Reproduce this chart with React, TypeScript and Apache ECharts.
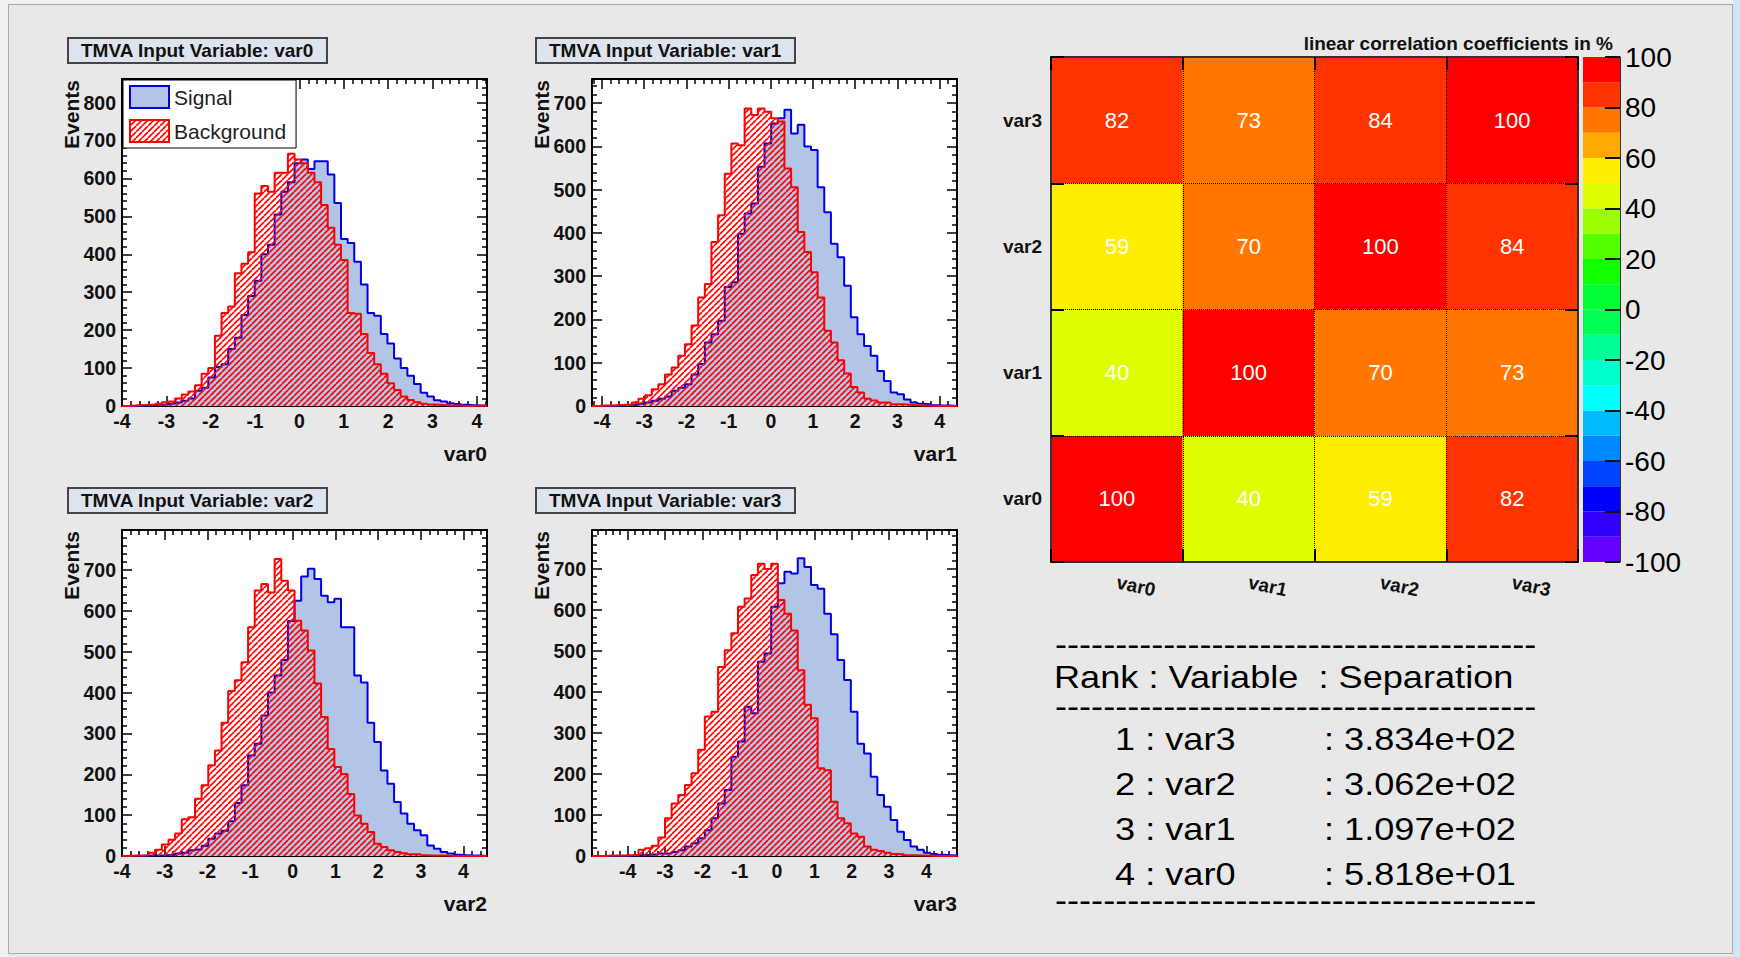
import React, { useEffect, useRef } from 'react';
import * as echarts from 'echarts';

// ---------------- data ----------------
const VARIABLES = ['var0', 'var1', 'var2', 'var3'];
const X_MIN = [-4.0, -4.237, -4.0, -4.955];
const X_MAX = [4.23, 4.412, 4.55, 4.82];
const Y_MAX = [862, 756, 798, 795];
const X_TICK_LABELS = [-4, -3, -2, -1, 0, 1, 2, 3, 4];
const Y_TICK_LABELS_VAR0 = [0, 100, 200, 300, 400, 500, 600, 700, 800];
const Y_TICK_LABELS_OTHER = [0, 100, 200, 300, 400, 500, 600, 700];

const SIGNAL_VAR0 = [0, 0, 1, 1, 2, 3, 4, 6, 9, 14, 20, 40, 48, 75, 103, 110, 150, 180, 240, 290, 330, 400, 425, 505, 565, 590, 640, 650, 625, 645, 645, 610, 535, 440, 430, 380, 320, 245, 238, 190, 165, 125, 100, 80, 58, 35, 25, 15, 12, 7, 5, 3, 2, 1, 1];
const BACKGROUND_VAR0 = [0, 1, 2, 3, 4, 6, 10, 12, 20, 30, 38, 55, 85, 100, 185, 245, 262, 350, 375, 405, 560, 580, 565, 615, 615, 665, 650, 640, 615, 590, 530, 470, 425, 385, 245, 243, 190, 140, 110, 85, 60, 42, 25, 16, 10, 6, 4, 3, 2, 1, 1, 0, 0, 1, 0];
const SIGNAL_VAR1 = [0, 0, 0, 1, 1, 2, 3, 5, 8, 12, 17, 22, 35, 42, 50, 73, 97, 147, 166, 197, 275, 286, 398, 445, 468, 553, 607, 653, 665, 685, 630, 650, 600, 592, 506, 448, 375, 344, 278, 205, 166, 139, 116, 81, 58, 31, 27, 15, 8, 5, 4, 2, 1, 1, 0];
const BACKGROUND_VAR1 = [0, 1, 1, 2, 3, 3, 8, 17, 25, 39, 50, 73, 89, 116, 143, 186, 251, 282, 379, 441, 537, 607, 603, 688, 673, 688, 680, 665, 658, 549, 506, 402, 356, 309, 251, 174, 147, 106, 75, 44, 31, 17, 13, 8, 8, 4, 4, 3, 2, 1, 1, 0, 0, 0, 0];
const SIGNAL_VAR2 = [0, 0, 0, 1, 1, 1, 2, 3, 6, 8, 14, 16, 25, 42, 55, 62, 85, 130, 173, 246, 275, 344, 400, 442, 480, 575, 625, 684, 703, 678, 637, 621, 630, 560, 560, 442, 425, 326, 279, 209, 177, 132, 104, 79, 63, 51, 26, 18, 10, 6, 3, 2, 1, 1, 0];
const BACKGROUND_VAR2 = [0, 1, 1, 2, 8, 15, 28, 40, 55, 90, 95, 140, 173, 222, 258, 326, 404, 430, 474, 560, 650, 666, 645, 727, 674, 650, 576, 552, 503, 422, 340, 262, 218, 201, 152, 99, 79, 59, 30, 22, 14, 10, 7, 4, 4, 2, 1, 1, 1, 0, 0, 0, 0, 0, 0];
const SIGNAL_VAR3 = [0, 0, 0, 0, 0, 1, 1, 2, 3, 4, 6, 6, 10, 14, 23, 31, 43, 63, 92, 128, 161, 242, 279, 364, 348, 474, 494, 608, 665, 693, 689, 726, 705, 661, 652, 591, 541, 478, 429, 352, 274, 250, 193, 149, 120, 88, 59, 39, 23, 15, 8, 5, 3, 2, 1];
const BACKGROUND_VAR3 = [0, 0, 1, 1, 1, 2, 3, 15, 19, 25, 45, 92, 128, 149, 173, 202, 259, 340, 352, 461, 502, 543, 608, 628, 685, 713, 700, 713, 624, 591, 550, 453, 369, 336, 214, 209, 132, 92, 80, 55, 47, 23, 15, 12, 8, 5, 4, 2, 2, 1, 1, 0, 0, 0, 0];

const SIGNAL = [SIGNAL_VAR0, SIGNAL_VAR1, SIGNAL_VAR2, SIGNAL_VAR3];
const BACKGROUND = [BACKGROUND_VAR0, BACKGROUND_VAR1, BACKGROUND_VAR2, BACKGROUND_VAR3];

// correlation matrix rows (row = y variable, columns = x variables var0..var3)
const CORR_VAR0 = [100, 40, 59, 82];
const CORR_VAR1 = [40, 100, 70, 73];
const CORR_VAR2 = [59, 70, 100, 84];
const CORR_VAR3 = [82, 73, 84, 100];
const CORR_ROWS = [CORR_VAR0, CORR_VAR1, CORR_VAR2, CORR_VAR3];

const PALETTE_LOWER = [-100, -90, -80, -70, -60, -50, -40, -30, -20, -10, 0, 10, 20, 30, 40, 50, 60, 70, 80, 90];
const PALETTE_COLORS = [
  '#6600ff', '#3300ff', '#0000ff', '#0044ff', '#0088ff', '#00bbff', '#00ffff', '#00ffcc', '#00ff99', '#00ff55',
  '#00ff33', '#11ff00', '#55ff00', '#99ff00', '#ddff00', '#ffee00', '#ffaa00', '#ff7700', '#ff3300', '#ff0000',
];
const COLORBAR_TICKS = [-100, -80, -60, -40, -20, 0, 20, 40, 60, 80, 100];

const RANKS = [1, 2, 3, 4];
const RANK_VARIABLES = ['var3', 'var2', 'var1', 'var0'];
const SEPARATIONS = ['3.834e+02', '3.062e+02', '1.097e+02', '5.818e+01'];

// ---------------- layout / style ----------------
const FONT = '"Liberation Sans", Arial, Helvetica, sans-serif';
const HIST_GRIDS = [
  { left: 122, top: 79, width: 365, height: 327 },
  { left: 592, top: 79, width: 365, height: 327 },
  { left: 122, top: 530, width: 365, height: 326 },
  { left: 592, top: 530, width: 365, height: 326 },
];
const HIST_TITLES = [
  { left: 68, top: 38 },
  { left: 536, top: 38 },
  { left: 68, top: 488 },
  { left: 536, top: 488 },
];
const SIGNAL_FILL = '#b3c5e6';
const SIGNAL_LINE = '#0000e6';
const BKG_LINE = '#ff0000';
const TABLE_SCALE = 1.13;

function histPoints(values: number[], min: number, max: number): number[][] {
  const w = (max - min) / values.length;
  const pts = values.map((v, i) => [min + i * w, v]);
  pts.push([max, values[values.length - 1]]);
  return pts;
}

function minorValues(min: number, max: number, step: number, majors: number[]): number[] {
  const out: number[] = [];
  const start = Math.ceil(min / step - 1e-9);
  const end = Math.floor(max / step + 1e-9);
  for (let k = start; k <= end; k++) {
    const v = +(k * step).toFixed(6);
    if (!majors.some((m) => Math.abs(m - v) < 1e-9)) out.push(v);
  }
  return out;
}

function makeHatch(): HTMLCanvasElement {
  const c = document.createElement('canvas');
  c.width = 6;
  c.height = 6;
  const ctx = c.getContext('2d')!;
  ctx.strokeStyle = '#ff0000';
  ctx.lineWidth = 1.6;
  for (const k of [-1, 0, 1]) {
    ctx.beginPath();
    ctx.moveTo(k * 6, 6);
    ctx.lineTo(k * 6 + 6, 0);
    ctx.stroke();
  }
  return c;
}

function buildOption() {
  const hatch = { image: makeHatch(), repeat: 'repeat' };

  const grids: any[] = HIST_GRIDS.map((g) => ({
    ...g,
    show: true,
    backgroundColor: '#ffffff',
    borderWidth: 0,
    containLabel: false,
    outerBoundsMode: 'none',
  }));
  grids.push({ left: 1051, top: 57, width: 527, height: 505, show: false, containLabel: false, outerBoundsMode: 'none' });
  grids.push({ left: 1583, top: 57, width: 37, height: 505, show: false, containLabel: false, outerBoundsMode: 'none' });

  const xAxes: any[] = [];
  const yAxes: any[] = [];
  const series: any[] = [];

  const frameLine = (show: boolean) => ({ show, onZero: false, lineStyle: { color: '#000', width: 2 } });
  const ticks = (values: number[], length: number) => ({
    show: true,
    inside: true,
    length,
    customValues: values,
    lineStyle: { color: '#000', width: 1.5 },
  });
  const noLabel = { show: false };
  const tickLabel = (values: number[], margin: number) => ({
    show: true,
    customValues: values,
    margin,
    fontSize: 19.5,
    fontWeight: 'bold',
    color: '#111',
    fontFamily: FONT,
  });

  for (let gi = 0; gi < 4; gi++) {
    const xMin = X_MIN[gi];
    const xMax = X_MAX[gi];
    const yMax = Y_MAX[gi];
    const yTicks = gi === 0 ? Y_TICK_LABELS_VAR0 : Y_TICK_LABELS_OTHER;
    const xMinor = minorValues(xMin, xMax, 0.2, X_TICK_LABELS);
    const yMinor = minorValues(0, yMax, 20, yTicks);
    const xb = { type: 'value', gridIndex: gi, min: xMin, max: xMax, splitLine: { show: false }, nameMoveOverlap: false };
    const yb = { type: 'value', gridIndex: gi, min: 0, max: yMax, splitLine: { show: false }, nameMoveOverlap: false };

    xAxes.push({
      ...xb,
      position: 'bottom',
      axisLine: frameLine(true),
      axisTick: ticks(X_TICK_LABELS, 10),
      axisLabel: tickLabel(X_TICK_LABELS, 5),
      name: VARIABLES[gi],
      nameLocation: 'end',
      nameGap: 0,
      nameTextStyle: {
        fontSize: 21,
        fontWeight: 'bold',
        color: '#111',
        fontFamily: FONT,
        align: 'right',
        verticalAlign: 'top',
        padding: [37, 0, 0, 0],
      },
    });
    xAxes.push({ ...xb, position: 'bottom', axisLine: frameLine(false), axisTick: ticks(xMinor, 5), axisLabel: noLabel });
    xAxes.push({ ...xb, position: 'top', axisLine: frameLine(true), axisTick: ticks(X_TICK_LABELS, 10), axisLabel: noLabel });
    xAxes.push({ ...xb, position: 'top', axisLine: frameLine(false), axisTick: ticks(xMinor, 5), axisLabel: noLabel });

    yAxes.push({
      ...yb,
      position: 'left',
      axisLine: frameLine(true),
      axisTick: ticks(yTicks, 10),
      axisLabel: tickLabel(yTicks, 6),
      name: 'Events',
      nameLocation: 'end',
      nameGap: -1,
      nameRotate: 90,
      nameTextStyle: {
        fontSize: 21,
        fontWeight: 'bold',
        color: '#111',
        fontFamily: FONT,
        align: 'right',
        verticalAlign: 'bottom',
        padding: [0, 0, 40, 0],
      },
    });
    yAxes.push({ ...yb, position: 'left', axisLine: frameLine(false), axisTick: ticks(yMinor, 5), axisLabel: noLabel });
    yAxes.push({ ...yb, position: 'right', axisLine: frameLine(true), axisTick: ticks(yTicks, 10), axisLabel: noLabel });
    yAxes.push({ ...yb, position: 'right', axisLine: frameLine(false), axisTick: ticks(yMinor, 5), axisLabel: noLabel });

    series.push({
      type: 'line',
      name: 'Signal',
      xAxisIndex: gi * 4,
      yAxisIndex: gi * 4,
      data: histPoints(SIGNAL[gi], xMin, xMax),
      step: 'end',
      symbol: 'none',
      silent: true,
      z: 2,
      itemStyle: { color: SIGNAL_FILL },
      lineStyle: { color: SIGNAL_LINE, width: 2 },
      areaStyle: { color: SIGNAL_FILL, opacity: 1 },
      emphasis: { disabled: true },
    });
    series.push({
      type: 'line',
      name: 'Background',
      xAxisIndex: gi * 4,
      yAxisIndex: gi * 4,
      data: histPoints(BACKGROUND[gi], xMin, xMax),
      step: 'end',
      symbol: 'none',
      silent: true,
      z: 3,
      itemStyle: { color: BKG_LINE },
      lineStyle: { color: BKG_LINE, width: 2 },
      areaStyle: { color: hatch, opacity: 1 },
      emphasis: { disabled: true },
    });
  }

  // ---- correlation heatmap axes (index 16, 17) ----
  const catTick = { show: true, inside: true, length: 13, lineStyle: { color: '#000', width: 2 } };
  const catLine = { show: true, onZero: false, lineStyle: { color: '#333', width: 2 } };
  const dotted = { show: true, lineStyle: { type: 'dotted', color: '#000', width: 1 } };
  xAxes.push({
    type: 'category',
    gridIndex: 4,
    data: VARIABLES,
    position: 'bottom',
    z: 5,
    axisLine: catLine,
    axisTick: catTick,
    splitLine: dotted,
    axisLabel: { rotate: -12, margin: 20, interval: 0, fontSize: 19, fontWeight: 'bold', color: '#111', fontFamily: FONT },
  });
  xAxes.push({
    type: 'category',
    gridIndex: 4,
    data: VARIABLES,
    position: 'top',
    z: 5,
    axisLine: catLine,
    axisTick: catTick,
    splitLine: { show: false },
    axisLabel: { show: false },
  });
  yAxes.push({
    type: 'category',
    gridIndex: 4,
    data: VARIABLES,
    position: 'left',
    z: 5,
    axisLine: catLine,
    axisTick: catTick,
    splitLine: dotted,
    axisLabel: { margin: 9, interval: 0, fontSize: 19, fontWeight: 'bold', color: '#111', fontFamily: FONT },
  });
  yAxes.push({
    type: 'category',
    gridIndex: 4,
    data: VARIABLES,
    position: 'right',
    z: 5,
    axisLine: catLine,
    axisTick: catTick,
    splitLine: { show: false },
    axisLabel: { show: false },
  });

  // ---- colour bar axes (index 18) ----
  xAxes.push({ type: 'value', gridIndex: 5, min: 0, max: 1, show: false });
  yAxes.push({
    type: 'value',
    gridIndex: 5,
    min: -100,
    max: 100,
    interval: 20,
    position: 'right',
    z: 5,
    axisLine: { show: true, onZero: false, lineStyle: { color: '#333', width: 1 } },
    axisTick: { show: true, inside: true, length: 15, customValues: COLORBAR_TICKS, lineStyle: { color: '#111', width: 2 } },
    axisLabel: { show: true, customValues: COLORBAR_TICKS, margin: 5, fontSize: 28, color: '#000', fontFamily: FONT },
    splitLine: { show: false },
  });

  const heatData: number[][] = [];
  CORR_ROWS.forEach((row, yi) => row.forEach((v, xi) => heatData.push([xi, yi, v])));

  series.push({
    type: 'heatmap',
    xAxisIndex: 16,
    yAxisIndex: 16,
    data: heatData,
    silent: true,
    itemStyle: { borderWidth: 0 },
    emphasis: { disabled: true },
    label: {
      show: true,
      color: '#fff',
      fontSize: 22,
      fontFamily: FONT,
      formatter: (p: any) => String(p.value[2]),
    },
  });

  series.push({
    type: 'custom',
    xAxisIndex: 18,
    yAxisIndex: 18,
    silent: true,
    data: PALETTE_LOWER.map((lo, i) => [0.5, lo, lo + 10, i]),
    encode: { x: 0, y: [1, 2] },
    renderItem: (_params: any, api: any) => {
      const lo = api.value(1);
      const hi = api.value(2);
      const idx = api.value(3);
      const p0 = api.coord([0, hi]);
      const p1 = api.coord([1, lo]);
      return {
        type: 'rect',
        shape: { x: p0[0], y: p0[1], width: p1[0] - p0[0], height: p1[1] - p0[1] },
        style: { fill: PALETTE_COLORS[idx] },
      };
    },
  });

  const pieces = PALETTE_LOWER.map((lo, i) =>
    i === PALETTE_LOWER.length - 1
      ? { gte: lo, lte: lo + 10, color: PALETTE_COLORS[i] }
      : { gte: lo, lt: lo + 10, color: PALETTE_COLORS[i] }
  );

  const titles: any[] = VARIABLES.map((v, gi) => ({
    text: 'TMVA Input Variable: ' + v,
    left: HIST_TITLES[gi].left,
    top: HIST_TITLES[gi].top,
    padding: [3, 13],
    backgroundColor: '#dde4ed',
    borderColor: '#444',
    borderWidth: 2,
    textStyle: { fontSize: 19, lineHeight: 19, fontWeight: 'bold', color: '#111', fontFamily: FONT },
  }));
  titles.push({
    text: 'linear correlation coefficients in %',
    right: 127,
    top: 33,
    padding: 0,
    textStyle: { fontSize: 19, lineHeight: 20, fontWeight: 'bold', color: '#111', fontFamily: FONT },
  });

  // ---- ranking table (text) ----
  const dashes = '-'.repeat(40);
  const tFont = `32px ${FONT}`;
  const tText = (text: string, x: number, y: number) => ({
    type: 'text',
    x,
    y,
    scaleX: TABLE_SCALE,
    silent: true,
    style: { text, font: tFont, fill: '#000', align: 'left', verticalAlign: 'middle', textAlign: 'left', textVerticalAlign: 'middle' },
  });
  const tableTexts: any[] = [];
  tableTexts.push(tText(dashes, 1055, 644));
  tableTexts.push(tText('Rank : Variable  : Separation', 1054, 677));
  tableTexts.push(tText(dashes, 1055, 706));
  RANKS.forEach((r, i) => {
    const y = 739 + i * 45;
    tableTexts.push(tText(`${r} : ${RANK_VARIABLES[i]}`, 1115, y));
    tableTexts.push(tText(`: ${SEPARATIONS[i]}`, 1324, y));
  });
  tableTexts.push(tText(dashes, 1055, 900));

  return {
    animation: false,
    backgroundColor: '#e8e8e8',
    textStyle: { fontFamily: FONT },
    title: titles,
    legend: {
      show: true,
      orient: 'vertical',
      left: 123,
      top: 80,
      selectedMode: false,
      icon: 'rect',
      itemWidth: 39,
      itemHeight: 22,
      itemGap: 10,
      padding: [5, 10, 5, 6],
      backgroundColor: '#ffffff',
      borderColor: '#000',
      borderWidth: 1,
      borderRadius: 0,
      textStyle: { fontSize: 21, color: '#222', fontFamily: FONT },
      data: [
        { name: 'Signal', icon: 'rect', itemStyle: { color: SIGNAL_FILL, borderColor: SIGNAL_LINE, borderWidth: 2 } },
        { name: 'Background', icon: 'rect', itemStyle: { color: hatch, borderColor: BKG_LINE, borderWidth: 2 } },
      ],
    },
    grid: grids,
    xAxis: xAxes,
    yAxis: yAxes,
    visualMap: [{ type: 'piecewise', show: false, seriesIndex: 8, dimension: 2, pieces }],
    series,
    graphic: [
      { type: 'rect', silent: true, shape: { x: 0, y: 0, width: 8, height: 957 }, style: { fill: '#f0f0f0' } },
      { type: 'rect', silent: true, shape: { x: 0, y: 0, width: 1740, height: 4 }, style: { fill: '#f0f0f0' } },
      { type: 'rect', silent: true, shape: { x: 1733, y: 0, width: 7, height: 957 }, style: { fill: '#cde7f8' } },
      {
        type: 'rect',
        silent: true,
        shape: { x: 8.5, y: 4.5, width: 1724, height: 949 },
        style: { fill: 'none', stroke: '#a8a8a8', lineWidth: 1 },
      },
      ...tableTexts,
    ],
  };
}

export default function App() {
  const ref = useRef<HTMLDivElement>(null);
  useEffect(() => {
    if (!ref.current) return;
    const chart = echarts.init(ref.current, null, { renderer: 'svg' });
    chart.setOption(buildOption() as any);
    return () => chart.dispose();
  }, []);
  return <div ref={ref} style={{ position: 'absolute', left: 0, top: 0, width: 1740, height: 957 }} />;
}
